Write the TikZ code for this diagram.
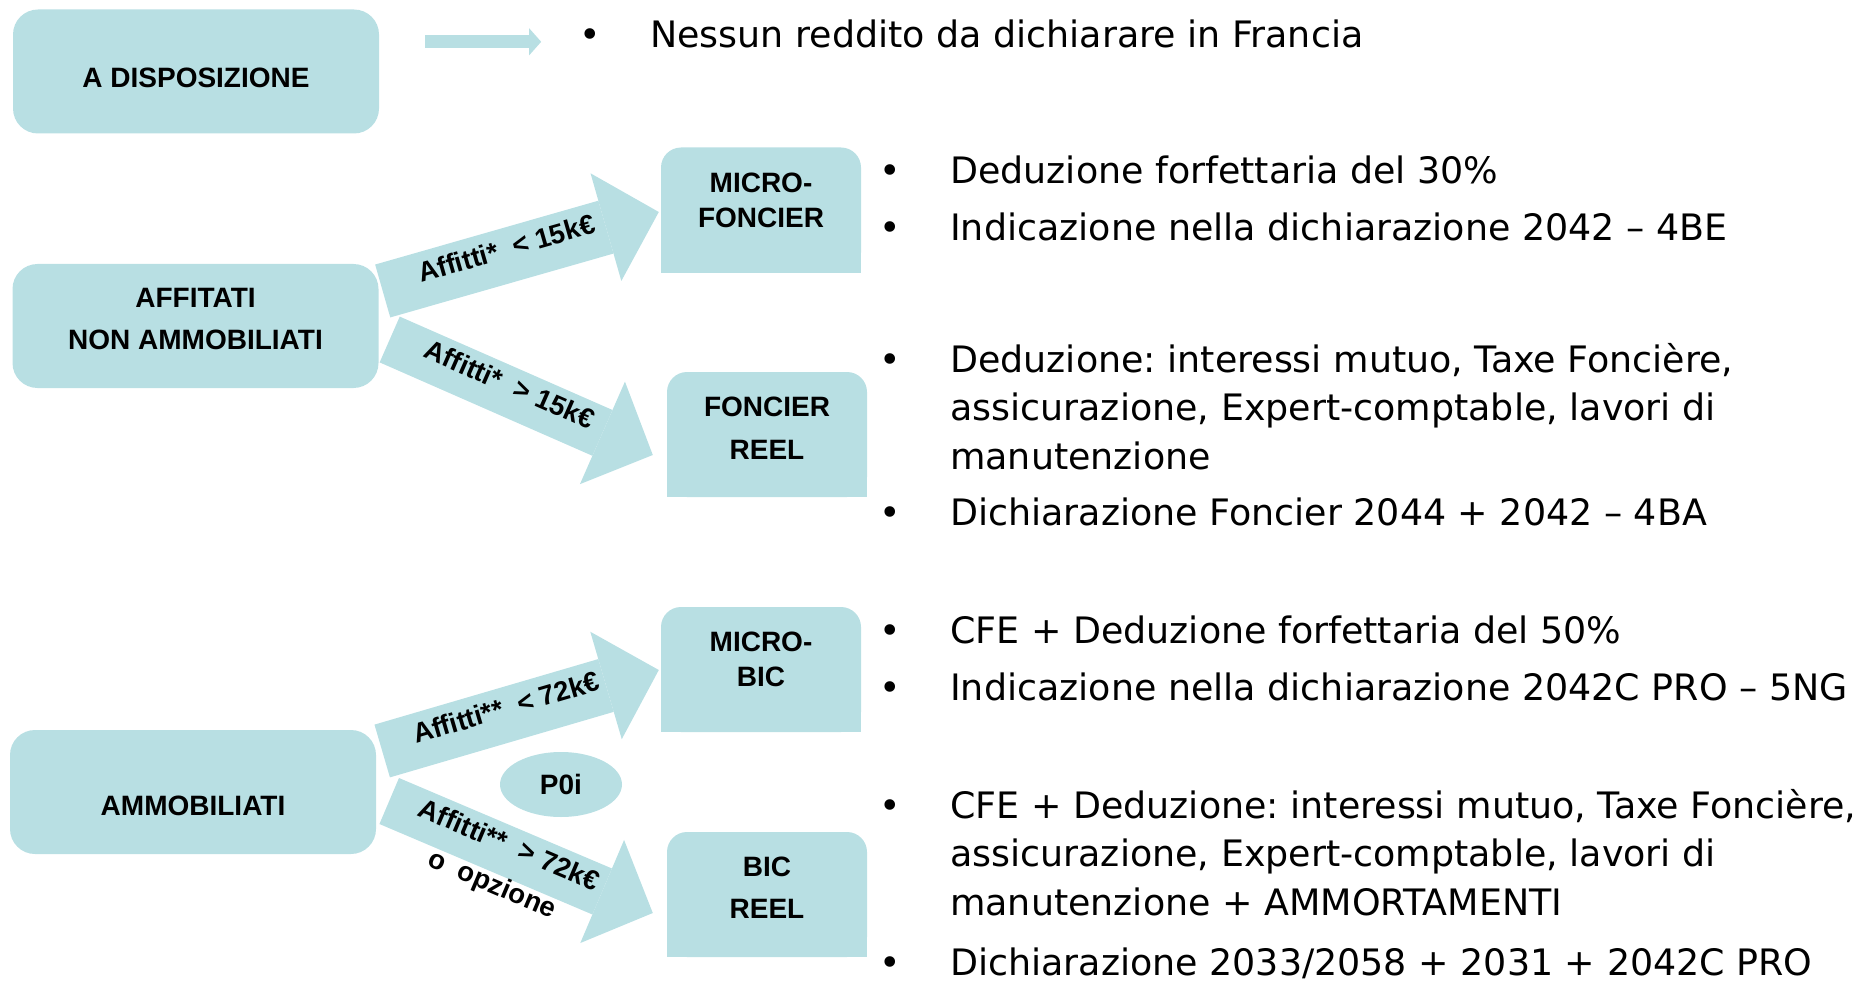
\documentclass[tikz,border=0pt]{standalone}
\usepackage{fontspec}
\setmainfont{DejaVu Sans}
\newfontfamily\labfont{Liberation Sans}
\usetikzlibrary{arrows.meta,calc,shapes.geometric,backgrounds}
\definecolor{boxfill}{HTML}{B8DFE3}
\frenchspacing

\tikzset{
  lbox/.style = {fill=boxfill, rounded corners=25pt, minimum width=366pt, minimum height=124pt, inner sep=0pt},
  rbox/.style = {fill=boxfill, rounded corners=20pt, minimum width=200pt, minimum height=125pt, inner sep=0pt},
  boxtext/.style = {align=center, inner sep=0pt, font=\labfont\bfseries\fontsize{28}{#1}\selectfont},
  boxtext/.default = 42,
  bigarrow/.style = {color=boxfill, line width=#1, -{Triangle[width=112pt, length=55pt, line width=0pt]}},
  smallarrow/.style = {color=boxfill, line width=13pt, -{Triangle[width=27pt, length=12pt, line width=0pt]}},
  arrlabel/.style = {sloped, anchor=mid, inner sep=0pt, text=black, font=\labfont\bfseries\fontsize{27.5}{42}\selectfont},
  bulldot/.style = {anchor=base, inner sep=0pt, font=\fontsize{36.4}{48.5}\selectfont},
  bultext/.style = {anchor=base west, inner sep=0pt, font=\fontsize{36.4}{48.5}\selectfont},
}

\begin{document}
\begin{tikzpicture}[x=1pt, y=-1pt]
\useasboundingbox (0,0) rectangle (1872,984);

% categories on the left
\node[lbox, label={[boxtext, yshift=-6.5pt]center:A DISPOSIZIONE}] (disp) at (196,71.5) {};
\node[lbox, label={[boxtext=42, yshift=7pt]center:AFFITATI\\NON AMMOBILIATI}] (aff) at (195.5,326) {};
\node[lbox, label={[boxtext, yshift=-14pt]center:AMMOBILIATI}] (amm) at (193,792) {};

% regimes
\node[rbox, label={[boxtext=35, yshift=10pt]center:MICRO-\\FONCIER}] (mf) at (761,210) {};
\node[rbox, label={[boxtext=43, yshift=6pt]center:FONCIER\\REEL}] (fr) at (767,434.5) {};
\node[rbox, label={[boxtext=35, yshift=10pt]center:MICRO-\\BIC}] (mb) at (761,669.5) {};
\node[rbox, label={[boxtext=42, yshift=7pt]center:BIC\\REEL}] (br) at (767,894.5) {};
\begin{scope}[on background layer]
  \foreach \b in {mf,fr,mb,br}
    \fill[boxfill] (\b.south west) rectangle (\b.east);
\end{scope}

\node[ellipse, fill=boxfill, minimum width=122pt, minimum height=65pt, inner sep=0pt,
  font=\labfont\bfseries\fontsize{28}{34}\selectfont] (poi) at (561,784.5) {P0i};

% arrows
\draw[smallarrow] ($(disp.north east)+(46,32.5)$) -- ++(116,0);
\draw[bigarrow=55pt] ($(aff.east)+(4,-35)$) -- ($(mf.west)+(-2,2)$)
  node[arrlabel, pos=0.455] {Affitti*\ \ < 15k€};
\draw[bigarrow=50pt] ($(aff.east)+(11,13.5)$) -- ($(fr.west)+(-14,20.5)$)
  node[arrlabel, pos=0.445] {Affitti*\ \ > 15k€};
\draw[bigarrow=55pt] ($(amm.east)+(6,-41)$) -- ($(mb.west)+(-2,0.5)$)
  node[arrlabel, pos=0.455] {Affitti**\ \ < 72k€};
\draw[bigarrow=50pt] ($(amm.east)+(13,9)$) -- ($(br.west)+(-14,18.5)$)
  node[arrlabel, pos=0.445] {\begin{tabular}[t]{@{}c@{}}Affitti**\ \ > 72k€\\o\ \ opzione\end{tabular}};

% bullet texts
\foreach \y/\n in {48/b0, 184/b1, 241/b2, 372/b3, 525/b4, 643/b5, 700/b6, 818/b7, 975/b8}
  \node[bulldot] (\n) at (\ifnum\y=48 590\else 890\fi,\y) {•};

\node[bultext] (nes) at (650,48) {Nessun reddito da dichiarare in Francia};
\node[bultext] (mf1) at (950,184) {Deduzione forfettaria del 30\%};
\node[bultext] (mf2) at (950,241) {Indicazione nella dichiarazione 2042 – 4BE};
\node[bultext] (fr1) at (950,372) {\begin{tabular}[t]{@{}l@{}}Deduzione: interessi mutuo, Taxe Foncière,\\assicurazione, Expert-comptable, lavori di\\manutenzione\end{tabular}};
\node[bultext] (fr2) at (950,525) {Dichiarazione Foncier 2044 + 2042 – 4BA};
\node[bultext] (mb1) at (950,643) {CFE + Deduzione forfettaria del 50\%};
\node[bultext] (mb2) at (950,700) {Indicazione nella dichiarazione 2042C PRO – 5NG};
\node[bultext] (br1) at (950,818) {\begin{tabular}[t]{@{}l@{}}CFE + Deduzione: interessi mutuo, Taxe Foncière,\\assicurazione, Expert-comptable, lavori di\\manutenzione + AMMORTAMENTI\end{tabular}};
\node[bultext] (br2) at (950,975) {Dichiarazione 2033/2058 + 2031 + 2042C PRO};
\end{tikzpicture}
\end{document}
